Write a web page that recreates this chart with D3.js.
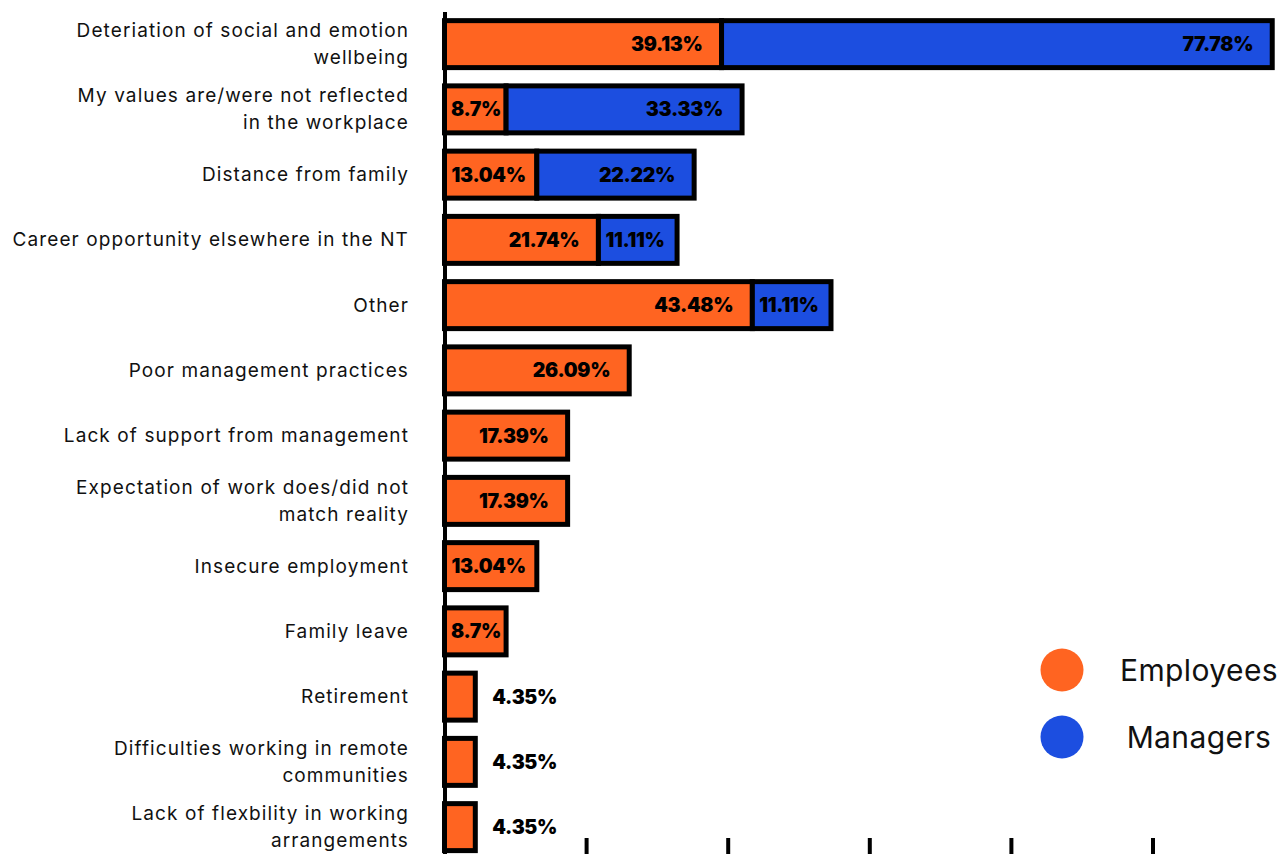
<!DOCTYPE html>
<html>
<head>
<meta charset="utf-8">
<script src="https://cdn.jsdelivr.net/npm/d3@7"></script>
<style>
  html, body { margin: 0; padding: 0; background: #fff; }
  svg { display: block; }
</style>
</head>
<body>
<svg id="chart" width="1287" height="854"></svg>
<script>
const categories = [
  "Deteriation of social and emotion\nwellbeing",
  "My values are/were not reflected\nin the workplace",
  "Distance from family",
  "Career opportunity elsewhere in the NT",
  "Other",
  "Poor management practices",
  "Lack of support from management",
  "Expectation of work does/did not\nmatch reality",
  "Insecure employment",
  "Family leave",
  "Retirement",
  "Difficulties working in remote\ncommunities",
  "Lack of flexbility in working\narrangements"
];
const employees = [39.13, 8.7, 13.04, 21.74, 43.48, 26.09, 17.39, 17.39, 13.04, 8.7, 4.35, 4.35, 4.35];
const managers  = [77.78, 33.33, 22.22, 11.11, 11.11, 0, 0, 0, 0, 0, 0, 0, 0];
const seriesNames = ["Employees", "Managers"];
const xTicks = [20, 40, 60, 80, 100];

const colors = ["#FF6421", "#1C4EE0"];
const svg = d3.select("#chart");

const x = d3.scaleLinear().domain([0, 100]).range([444.5, 1152.5]);
const y = d3.scaleBand().domain(categories).range([11.5, 859.75]).paddingInner(0.28).paddingOuter(0.14);

// bars
const rows = categories.map((c, i) => ({ cat: c, segs: [
  { s: 0, v: employees[i], k: 0 },
  { s: employees[i], v: managers[i], k: 1 }
].filter(d => d.v > 0) }));

const g = svg.append("g");
rows.forEach(r => {
  r.segs.forEach(sg => {
    g.append("rect")
      .attr("x", x(sg.s))
      .attr("y", y(r.cat))
      .attr("width", x(sg.s + sg.v) - x(sg.s))
      .attr("height", y.bandwidth())
      .attr("fill", colors[sg.k])
      .attr("stroke", "#000")
      .attr("stroke-width", 5);
  });
});

// y axis
const yAxis = svg.append("g").attr("transform", `translate(${x(0)},0)`)
  .call(d3.axisLeft(y).tickSize(0).tickPadding(36));
yAxis.select(".domain").attr("stroke", "#000").attr("stroke-width", 4);
yAxis.selectAll(".tick text")
  .attr("font-family", "Inter, sans-serif")
  .attr("font-size", 19)
  .attr("letter-spacing", "1.1px")
  .attr("fill", "#111")
  .each(function(d) {
    const t = d3.select(this);
    const lines = d.split("\n");
    t.text(null).attr("dy", null);
    lines.forEach((ln, j) => {
      t.append("tspan")
        .attr("x", -35.5)
        .attr("dy", j === 0 ? ((-(lines.length - 1) * 13.5) + 6.5) + "px" : "27px")
        .text(ln);
    });
  });

// x axis (ticks only; labels are out of the frame)
const xAxis = svg.append("g").attr("transform", "translate(0,860)")
  .call(d3.axisBottom(x).tickValues(xTicks).tickSize(-22).tickFormat(""));
xAxis.select(".domain").remove();
xAxis.selectAll(".tick line").attr("stroke", "#000").attr("stroke-width", 4);

// value labels
rows.forEach(r => {
  r.segs.forEach(sg => {
    const x0 = x(sg.s), x1 = x(sg.s + sg.v);
    const t = svg.append("text")
      .attr("y", y(r.cat) + y.bandwidth() / 2)
      .attr("dy", "0.36em")
      .attr("font-family", "Inter, sans-serif")
      .attr("font-weight", 900)
      .attr("font-size", 19.5)
      .attr("letter-spacing", "-0.3px")
      .attr("fill", "#000")
      .text(sg.v + "%");
    const w = t.node().getComputedTextLength();
    if (w + 10 > x1 - x0) {
      t.attr("x", x1 + 17).attr("text-anchor", "start");
    } else {
      const endX = Math.max(x0 + 7 + w, x1 - 19);
      t.attr("x", Math.min(endX, x1 - 5)).attr("text-anchor", "end");
    }
  });
});

// legend
const leg = svg.append("g");
seriesNames.forEach((n, i) => {
  const cy = 670 + i * 67;
  leg.append("circle").attr("cx", 1062).attr("cy", cy).attr("r", 21.5).attr("fill", colors[i]);
  leg.append("text").attr("x", 1199).attr("y", cy).attr("dy", "0.36em")
    .attr("text-anchor", "middle")
    .attr("font-family", "Inter, sans-serif")
    .attr("font-size", 30)
    .attr("letter-spacing", "0.4px")
    .attr("fill", "#111")
    .text(n);
});
</script>
</body>
</html>
